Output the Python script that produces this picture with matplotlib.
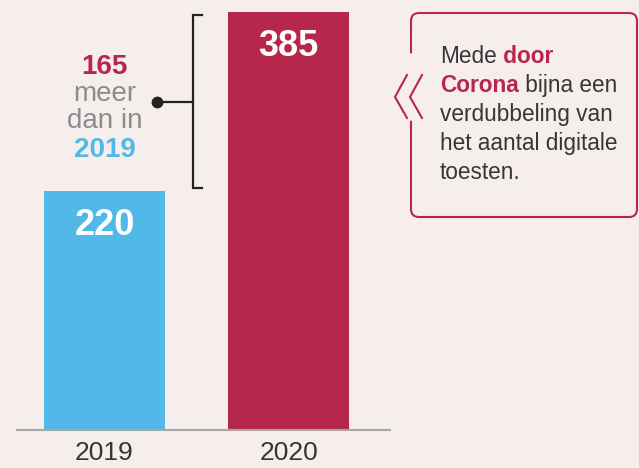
import matplotlib.pyplot as plt
from matplotlib.patches import FancyBboxPatch

plt.rcParams['font.family'] = ['Liberation Sans', 'DejaVu Sans']

# data
years = ['2019', '2020']
counts = [220, 385]
bar_colors = ['#52b8e8', '#b7274b']
diff = counts[1] - counts[0]

bg = '#f6eeed'
red = '#b7274b'
blue = '#52b8e8'
dark = '#363636'
grey = '#8c8c8c'

fig = plt.figure(figsize=(6.39, 4.68), dpi=100, facecolor=bg)

# bar axes, placed so the baseline sits near the bottom
ax = fig.add_axes([17 / 639, 38.5 / 468, 373 / 639, 428.2 / 468])
ax.set_facecolor('none')
x = list(range(len(years)))
ax.bar(x, counts, width=0.658, color=bar_colors, zorder=2)
ax.set_xlim(-0.4755, 1.5516)
ax.set_ylim(0, 395)
ax.set_yticks([])
ax.set_xticks(x, years)
ax.tick_params(axis='x', length=0, pad=8.5, labelsize=19, labelcolor=dark)
for s in ['top', 'right', 'left']:
    ax.spines[s].set_visible(False)
ax.spines['bottom'].set_color('#a8a8a8')
ax.spines['bottom'].set_linewidth(1.5)

# value labels inside the bars
for xi, v in zip(x, counts):
    ax.annotate(str(v), xy=(xi, v), xytext=(0, -44), textcoords='offset pixels',
                ha='center', va='baseline', fontsize=26, fontweight='bold',
                color='white')

# bracket between the two values
lo, hi = counts[0] + 2.5, counts[1] - 2.5
mid = (counts[0] + counts[1]) / 2
bx, arm = 0.4837, 0.5283
ax.plot([arm, bx, bx, arm], [hi, hi, lo, lo], color='#222222', lw=1.6,
        solid_joinstyle='miter', clip_on=False)
ax.plot([0.285, bx], [mid, mid], color='#222222', lw=1.6, clip_on=False)
ax.plot([0.285], [mid], 'o', color='#222222', ms=7.5, clip_on=False)

# "165 meer dan in 2019"
side = [(str(diff), red, 'bold', 28), ('meer', grey, 'normal', 1),
        ('dan in', grey, 'normal', -26), (years[0], blue, 'bold', -55.5)]
for txt, col, wt, dy in side:
    ax.annotate(txt, xy=(0, mid), xytext=(0, dy), textcoords='offset pixels',
                ha='center', va='baseline', fontsize=20, fontweight=wt,
                color=col)

# overlay in pixel coordinates for the callout box
ov = fig.add_axes([0, 0, 1, 1])
ov.set_xlim(0, 639)
ov.set_ylim(468, 0)
ov.axis('off')
ov.set_facecolor('none')

box = FancyBboxPatch((411, 13), 226, 204, boxstyle='round,pad=0,rounding_size=8',
                     fc='none', ec=red, lw=1.5, zorder=2)
ov.add_patch(box)
ov.plot([411, 411], [56, 118], color=bg, lw=4, zorder=3)
ov.plot([407, 395, 407], [75, 97, 118], color=red, lw=1.5, zorder=4)
ov.plot([422, 410, 422], [75, 97, 118], color=red, lw=1.5, zorder=4)

fs = 16.3
lines = [[('Mede', dark, 'normal'), (' door', red, 'bold')],
         [('Corona', red, 'bold'), (' bijna een', dark, 'normal')],
         [('verdubbeling van', dark, 'normal')],
         [('het aantal digitale', dark, 'normal')],
         [('toesten.', dark, 'normal')]]
for i, parts in enumerate(lines):
    yb = 62.7 + i * 29
    prev = None
    for txt, col, wt in parts:
        if prev is None:
            prev = ov.text(440, yb, txt, ha='left', va='baseline', fontsize=fs,
                           color=col, fontweight=wt)
        else:
            prev = ov.annotate(txt, xy=(1, 0), xycoords=prev, ha='left',
                               va='bottom', fontsize=fs, color=col,
                               fontweight=wt)

fig.savefig('out.png', dpi=100, facecolor=bg)
